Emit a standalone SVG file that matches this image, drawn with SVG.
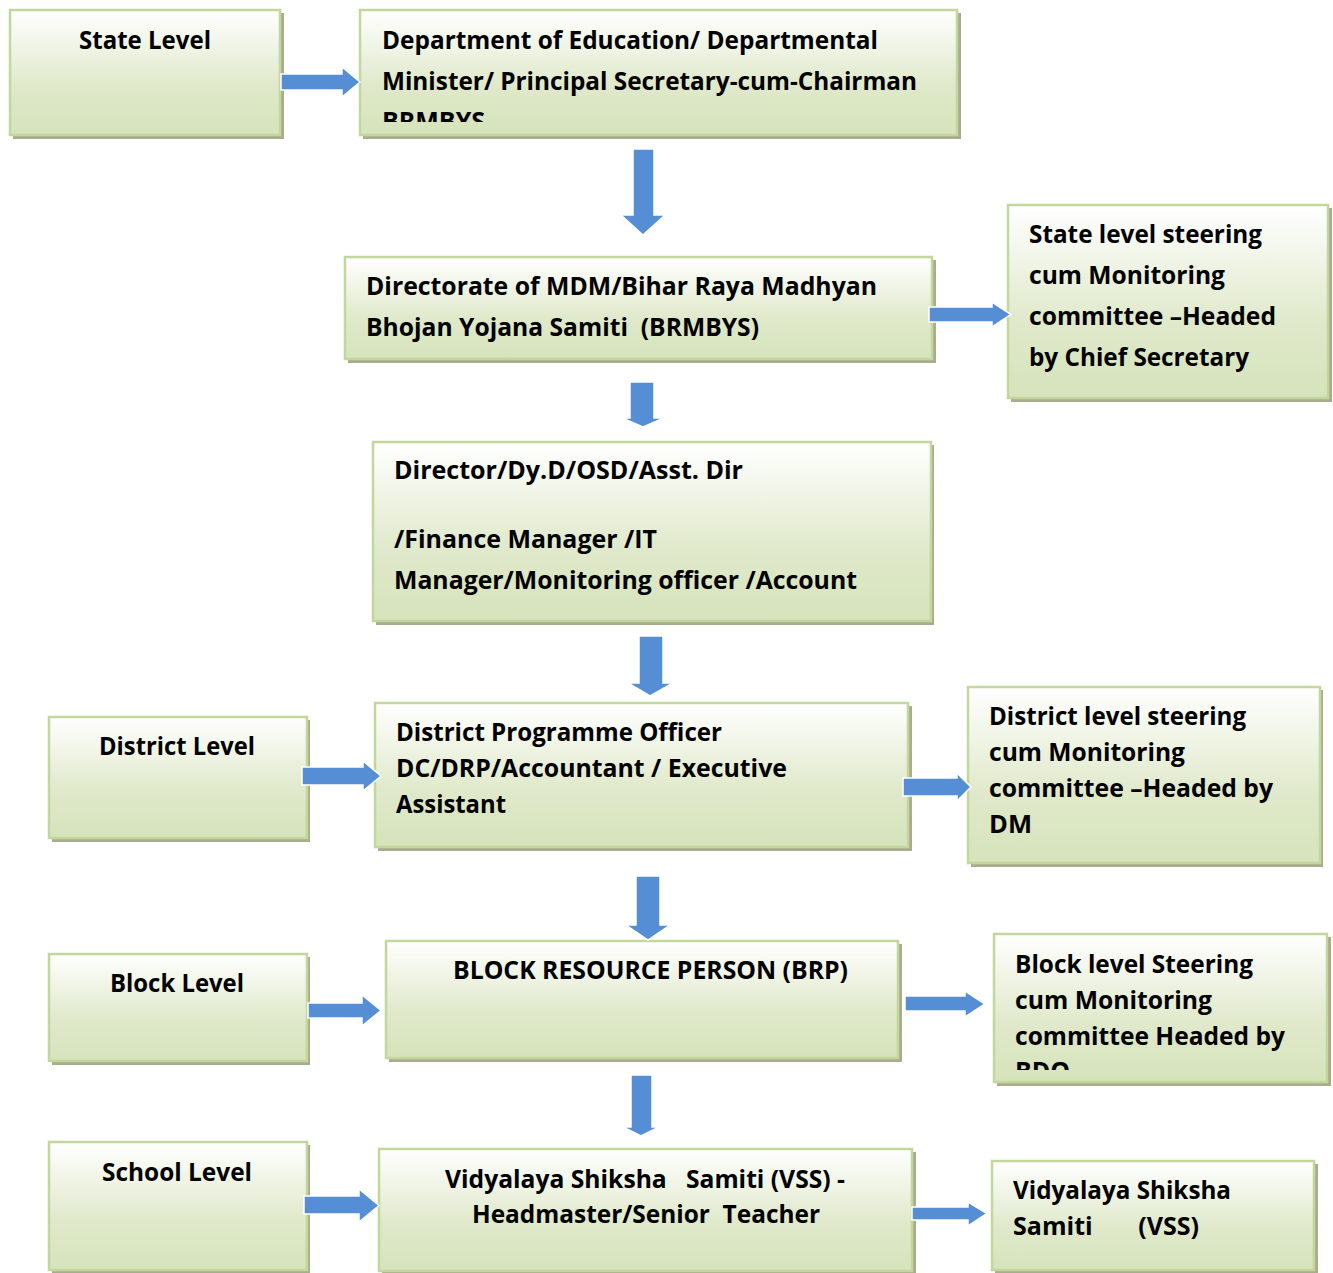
<svg xmlns="http://www.w3.org/2000/svg" width="1333" height="1273" viewBox="0 0 1333 1273">
<style>
.shadow{fill:#a8ad8f}
.box{fill:url(#g);stroke:#c3d69b;stroke-width:2.5}
text{font-family:"Open Sans","Noto Sans",sans-serif;font-weight:bold;font-size:25px;fill:#000}
.arr{fill:#558ed5;stroke:#ffffff;stroke-width:1.5}
</style>
<defs>
<linearGradient id="g" x1="0" y1="0" x2="0" y2="1">
<stop offset="0" stop-color="#ffffff"/>
<stop offset="0.6" stop-color="#e0e9cb"/>
<stop offset="1" stop-color="#d6e3bb"/>
</linearGradient>
<clipPath id="c1"><rect x="359" y="9" width="598" height="113"/></clipPath>
<clipPath id="c2"><rect x="993" y="933" width="334" height="137"/></clipPath>
</defs>
<rect width="1333" height="1273" fill="#ffffff"/>

<g id="state-level">
<rect class="shadow" x="13" y="13" width="271" height="126"/>
<rect class="box" x="10" y="10" width="270" height="125"/>
<text x="79" y="49" textLength="132" lengthAdjust="spacingAndGlyphs">State Level</text>
</g>

<g id="dept-education">
<rect class="shadow" x="363" y="13" width="598" height="126"/>
<rect class="box" x="360" y="10" width="597" height="125"/>
<g clip-path="url(#c1)">
<text x="382" y="49" textLength="496" lengthAdjust="spacingAndGlyphs">Department of Education/ Departmental</text>
<text x="382" y="90" textLength="535" lengthAdjust="spacingAndGlyphs">Minister/ Principal Secretary-cum-Chairman</text>
<text x="382" y="130" textLength="103" lengthAdjust="spacingAndGlyphs">BRMBYS</text>
</g>
</g>

<g id="directorate">
<rect class="shadow" x="348" y="260" width="588" height="103"/>
<rect class="box" x="345" y="257" width="587" height="102"/>
<text x="366" y="295" textLength="511" lengthAdjust="spacingAndGlyphs">Directorate of MDM/Bihar Raya Madhyan</text>
<text x="366" y="336" textLength="393" lengthAdjust="spacingAndGlyphs" xml:space="preserve">Bhojan Yojana Samiti  (BRMBYS)</text>
</g>

<g id="state-steering">
<rect class="shadow" x="1011" y="208" width="321" height="194"/>
<rect class="box" x="1008" y="205" width="320" height="193"/>
<text x="1029" y="243" textLength="233" lengthAdjust="spacingAndGlyphs">State level steering</text>
<text x="1029" y="284" textLength="196" lengthAdjust="spacingAndGlyphs">cum Monitoring</text>
<text x="1029" y="325" textLength="247" lengthAdjust="spacingAndGlyphs">committee –Headed</text>
<text x="1029" y="366" textLength="220" lengthAdjust="spacingAndGlyphs">by Chief Secretary</text>
</g>

<g id="director">
<rect class="shadow" x="376" y="445" width="558" height="180"/>
<rect class="box" x="373" y="442" width="558" height="179"/>
<text x="394" y="479" textLength="349" lengthAdjust="spacingAndGlyphs">Director/Dy.D/OSD/Asst. Dir</text>
<text x="394" y="548" textLength="263" lengthAdjust="spacingAndGlyphs">/Finance Manager /IT</text>
<text x="394" y="589" textLength="463" lengthAdjust="spacingAndGlyphs">Manager/Monitoring officer /Account</text>
</g>

<g id="district-level">
<rect class="shadow" x="52" y="720" width="258" height="122"/>
<rect class="box" x="49" y="717" width="258" height="121"/>
<text x="99" y="755" textLength="156" lengthAdjust="spacingAndGlyphs">District Level</text>
</g>

<g id="dpo">
<rect class="shadow" x="378" y="706" width="534" height="145"/>
<rect class="box" x="375" y="703" width="533" height="144"/>
<text x="396" y="741" textLength="326" lengthAdjust="spacingAndGlyphs">District Programme Officer</text>
<text x="396" y="777" textLength="391" lengthAdjust="spacingAndGlyphs">DC/DRP/Accountant / Executive</text>
<text x="396" y="813" textLength="110" lengthAdjust="spacingAndGlyphs">Assistant</text>
</g>

<g id="district-steering">
<rect class="shadow" x="971" y="690" width="352" height="177"/>
<rect class="box" x="968" y="687" width="352" height="176"/>
<text x="989" y="725" textLength="257" lengthAdjust="spacingAndGlyphs">District level steering</text>
<text x="989" y="761" textLength="196" lengthAdjust="spacingAndGlyphs">cum Monitoring</text>
<text x="989" y="797" textLength="284" lengthAdjust="spacingAndGlyphs">committee –Headed by</text>
<text x="989" y="833" textLength="43" lengthAdjust="spacingAndGlyphs">DM</text>
</g>

<g id="block-level">
<rect class="shadow" x="52" y="957" width="258" height="108"/>
<rect class="box" x="49" y="954" width="258" height="107"/>
<text x="110" y="992" textLength="134" lengthAdjust="spacingAndGlyphs">Block Level</text>
</g>

<g id="brp">
<rect class="shadow" x="389" y="944" width="513" height="118"/>
<rect class="box" x="386" y="941" width="512" height="117"/>
<text x="453" y="979" textLength="395" lengthAdjust="spacingAndGlyphs">BLOCK RESOURCE PERSON (BRP)</text>
</g>

<g id="block-steering">
<rect class="shadow" x="997" y="937" width="334" height="149"/>
<rect class="box" x="994" y="934" width="333" height="148"/>
<g clip-path="url(#c2)">
<text x="1015" y="973" textLength="238" lengthAdjust="spacingAndGlyphs">Block level Steering</text>
<text x="1015" y="1009" textLength="197" lengthAdjust="spacingAndGlyphs">cum Monitoring</text>
<text x="1015" y="1045" textLength="270" lengthAdjust="spacingAndGlyphs">committee Headed by</text>
<text x="1015" y="1080" textLength="55" lengthAdjust="spacingAndGlyphs">BDO</text>
</g>
</g>

<g id="school-level">
<rect class="shadow" x="52" y="1145" width="258" height="130"/>
<rect class="box" x="49" y="1142" width="258" height="128"/>
<text x="102" y="1181" textLength="150" lengthAdjust="spacingAndGlyphs">School Level</text>
</g>

<g id="vss">
<rect class="shadow" x="382" y="1152" width="534" height="125"/>
<rect class="box" x="379" y="1149" width="533" height="122"/>
<text x="445" y="1188" textLength="400" lengthAdjust="spacingAndGlyphs" xml:space="preserve">Vidyalaya Shiksha   Samiti (VSS) -</text>
<text x="472" y="1223" textLength="348" lengthAdjust="spacingAndGlyphs" xml:space="preserve">Headmaster/Senior  Teacher</text>
</g>

<g id="vss-right">
<rect class="shadow" x="995" y="1164" width="323" height="112"/>
<rect class="box" x="992" y="1161" width="322" height="109"/>
<text x="1013" y="1199" textLength="218" lengthAdjust="spacingAndGlyphs">Vidyalaya Shiksha</text>
<text x="1013" y="1235" textLength="186" lengthAdjust="spacingAndGlyphs" xml:space="preserve">Samiti       (VSS)</text>
</g>

<g id="connectors">
<polygon class="arr" points="281,74 342,74 342,67 360,82 342,97 342,90 281,90"/>
<polygon class="arr" points="633,149 654,149 654,215 665,215 643,235 621,215 633,215"/>
<polygon class="arr" points="929,307 992,307 992,302 1011,314.5 992,327 992,322 929,322"/>
<polygon class="arr" points="630,382 654,382 654,418 664,418 643,427 622,418 630,418"/>
<polygon class="arr" points="639,636 663,636 663,683 673,683 650,696 628,683 639,683"/>
<polygon class="arr" points="302,767 363,767 363,761 381,776 363,791 363,785 302,785"/>
<polygon class="arr" points="903,778 957,778 957,773 971,787 957,801 957,796 903,796"/>
<polygon class="arr" points="636,876 660,876 660,925 670,925 648,940 626,925 636,925"/>
<polygon class="arr" points="308,1003 362,1003 362,995 381,1010.5 362,1026 362,1018 308,1018"/>
<polygon class="arr" points="905,996 965,996 965,991 985,1004 965,1017 965,1011 905,1011"/>
<polygon class="arr" points="631,1075 652,1075 652,1127 659,1127 641,1136 623,1127 631,1127"/>
<polygon class="arr" points="304,1196 359,1196 359,1189 379,1205.5 359,1222 359,1214 304,1214"/>
<polygon class="arr" points="912,1207 968,1207 968,1202 987,1213.5 968,1226 968,1220 912,1220"/>
</g>
</svg>
